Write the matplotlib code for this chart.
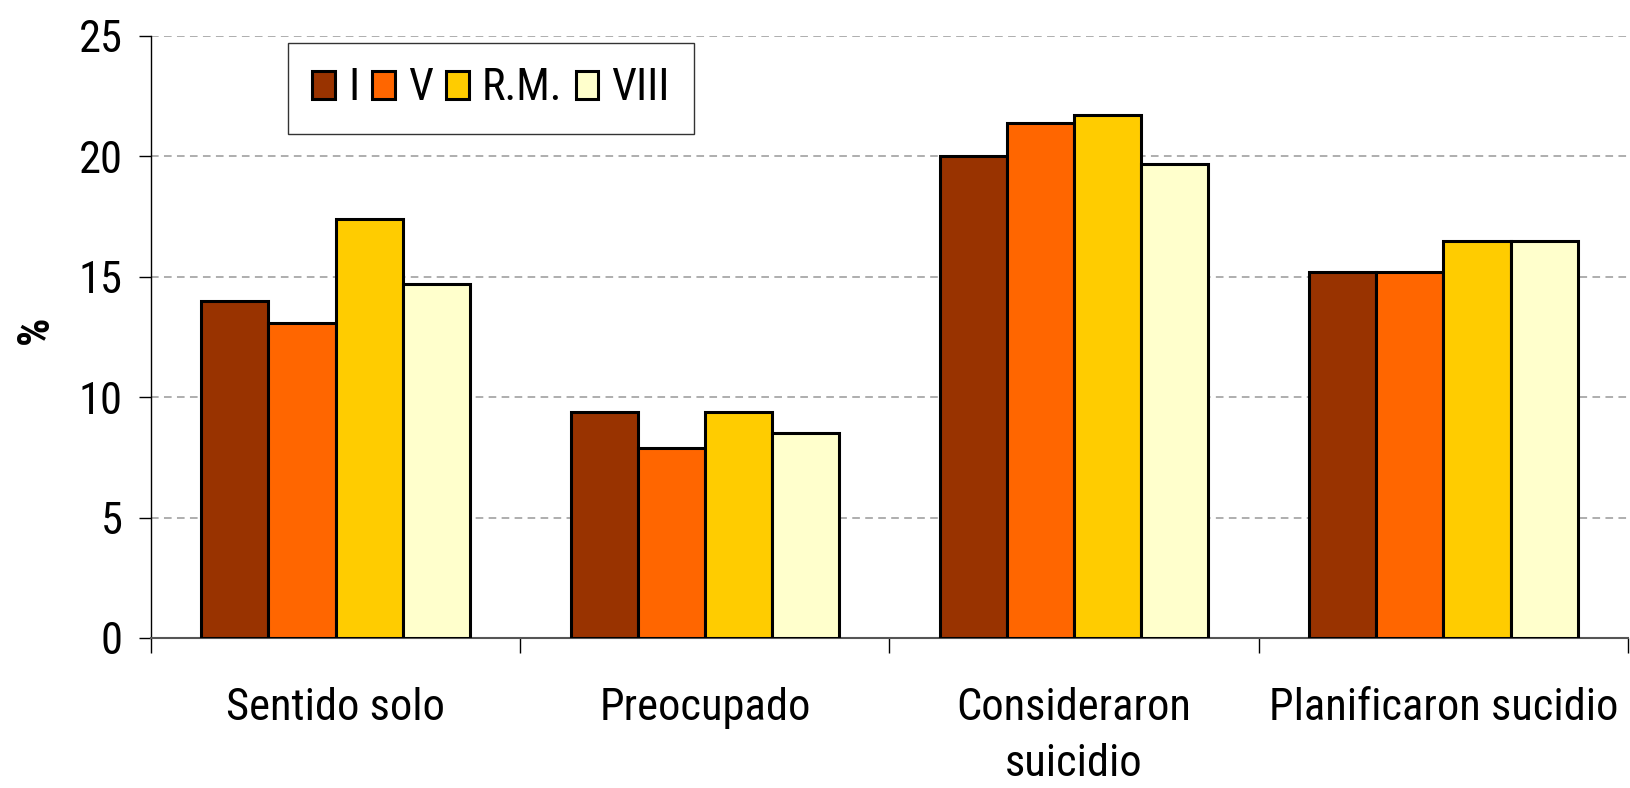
import matplotlib
matplotlib.use("Agg")
import matplotlib.pyplot as plt
import numpy as np

plt.rcParams['font.family'] = ['Roboto Condensed', 'DejaVu Sans']

categorias = ["Sentido solo", "Preocupado", "Consideraron\nsuicidio", "Planificaron sucidio"]
regiones = ["I", "V", "R.M.", "VIII"]
valores_I = [14.0, 9.4, 20.0, 15.2]
valores_V = [13.1, 7.9, 21.4, 15.2]
valores_RM = [17.4, 9.4, 21.7, 16.5]
valores_VIII = [14.7, 8.5, 19.7, 16.5]
colores = ["#993300", "#FF6600", "#FFCC00", "#FFFFCC"]

series = [valores_I, valores_V, valores_RM, valores_VIII]
fs = 32

fig = plt.figure(figsize=(16.31, 7.88), dpi=100)
# zona del grafico en pixeles: x 151..1628, y 36..638
ax = fig.add_axes([151 / 1631, 1 - 638 / 788, (1628 - 151) / 1631, (638 - 36) / 788])

x = np.arange(len(categorias))
width = 1 / 5.5
for i, vals in enumerate(series):
    ax.bar(x + (i - 1.5) * width, vals, width, color=colores[i],
           edgecolor='black', linewidth=2.2, label=regiones[i], zorder=3)

ax.set_xlim(-0.5, len(categorias) - 0.5)
ax.set_ylim(0, 25)
ax.set_yticks(np.arange(0, 26, 5))
ax.yaxis.grid(True, linestyle=(0, (5, 3.5)), color='#999999', linewidth=1.1, zorder=0)

ax.set_xticks(x)
ax.set_xticklabels(categorias, fontsize=fs, linespacing=1.45)
ax.set_xticks(np.arange(-0.5, len(categorias)), minor=True)
ax.tick_params(axis='x', which='major', length=0, pad=35)
ax.tick_params(axis='x', which='minor', length=11, width=1, color='black', direction='out')
ax.tick_params(axis='y', labelsize=fs, length=8.6, width=1, pad=12)

for s in ['top', 'right']:
    ax.spines[s].set_visible(False)
ax.spines['left'].set_linewidth(1)
ax.spines['bottom'].set_color('#555555')
ax.spines['bottom'].set_linewidth(1.5)

fig.text(36 / 1631, 1 - 330 / 788, '%', rotation=90, fontsize=fs, fontweight='bold',
         ha='center', va='center')

leg = ax.legend(ncol=4, loc='upper left', bbox_to_anchor=(288 / 1631, 1 - 43 / 788),
                bbox_transform=fig.transFigure, fontsize=fs, frameon=True, fancybox=False,
                handlelength=0.5, handleheight=0.6, handletextpad=0.3, columnspacing=0.3,
                borderpad=0.55, borderaxespad=0)
leg.get_frame().set_edgecolor('black')
leg.get_frame().set_linewidth(1)
for h in leg.legend_handles:
    h.set_linewidth(2.2)

fig.savefig('out.png', dpi=100)
